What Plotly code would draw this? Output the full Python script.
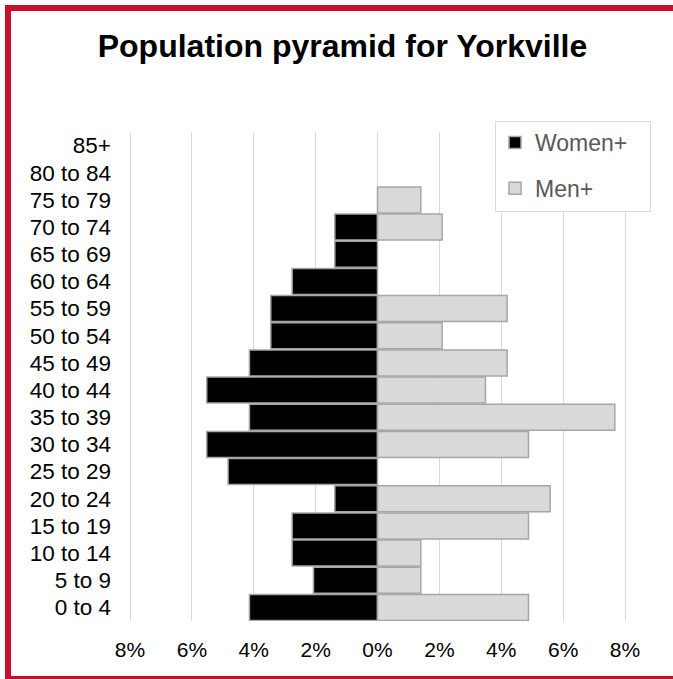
import plotly.graph_objects as go

age_groups = ["0 to 4", "5 to 9", "10 to 14", "15 to 19", "20 to 24", "25 to 29",
              "30 to 34", "35 to 39", "40 to 44", "45 to 49", "50 to 54", "55 to 59",
              "60 to 64", "65 to 69", "70 to 74", "75 to 79", "80 to 84", "85+"]
# percent of population
women = [4.14, 2.07, 2.76, 2.76, 1.38, 4.83, 5.52, 4.14, 5.52, 4.14, 3.45, 3.45,
         2.76, 1.38, 1.38, 0, 0, 0]
men = [4.88, 1.40, 1.40, 4.88, 5.58, 0, 4.88, 7.67, 3.49, 4.19, 2.09, 4.19,
       0, 0, 2.09, 1.40, 0, 0]
tick_vals = [-8, -6, -4, -2, 0, 2, 4, 6, 8]
tick_text = ["8%", "6%", "4%", "2%", "0%", "2%", "4%", "6%", "8%"]

W, H = 673, 679
L, R, T, B = 128, 46, 132, 58
pw, ph = W - L - R, H - T - B
xmax = 8 * pw / 495.0

def px_x(p):
    return (p - L) / pw

def px_y(p):
    return (H - B - p) / ph

fig = go.Figure()
fig.add_trace(go.Bar(
    y=age_groups, x=[-v if v else None for v in women], orientation="h", name="Women+",
    marker=dict(color="#000000", line=dict(color="#A6A6A6", width=1.5)),
    legendgroup="w", customdata=women,
    hovertemplate="%{y}: %{customdata:.2f}%<extra>Women+</extra>",
))
fig.add_trace(go.Bar(
    y=age_groups, x=[v if v else None for v in men], orientation="h", name="Men+",
    marker=dict(color="#D9D9D9", line=dict(color="#A6A6A6", width=1.5)),
    legendgroup="m",
    hovertemplate="%{y}: %{x:.2f}%<extra>Men+</extra>",
))

fig.update_layout(
    width=W, height=H,
    margin=dict(l=L, r=R, t=T, b=B),
    paper_bgcolor="white", plot_bgcolor="white",
    barmode="relative", bargap=0.04,
    font=dict(family="Liberation Sans, Arial, sans-serif", color="#000000"),
    title=dict(text="<b>Population pyramid for Yorkville</b>",
               font=dict(size=32, color="#000000"),
               x=342.5 / W, xref="container", xanchor="center",
               y=1 - 46 / H, yref="container", yanchor="middle"),
    xaxis=dict(range=[-xmax, xmax], tickvals=tick_vals, ticktext=tick_text,
               showgrid=True, gridcolor="#D9D9D9", gridwidth=1,
               zeroline=False, showline=False, ticks="",
               tickfont=dict(size=21, color="#000000"), ticklabelstandoff=14,
               fixedrange=True),
    yaxis=dict(type="category", categoryorder="array", categoryarray=age_groups,
               tickmode="array", tickvals=age_groups, ticktext=age_groups,
               range=[-0.5, len(age_groups) - 0.5],
               showgrid=False, zeroline=False, showline=False, ticks="",
               tickfont=dict(size=22.5, color="#000000"), ticklabelstandoff=16),
    legend=dict(x=px_x(495), y=px_y(121), xanchor="left", yanchor="top",
                bgcolor="rgba(0,0,0,0)", borderwidth=0,
                font=dict(size=23, color="#595959"),
                traceorder="grouped", tracegroupgap=13),
    shapes=[
        dict(type="rect", xref="paper", yref="paper",
             x0=px_x(495.5), x1=px_x(650.5), y0=px_y(121.5), y1=px_y(211.5),
             line=dict(color="#D9D9D9", width=1), fillcolor="white", layer="above"),
        dict(type="rect", xref="paper", yref="paper",
             x0=px_x(8), x1=px_x(677), y0=px_y(8), y1=px_y(679),
             line=dict(color="#C8102E", width=6), fillcolor="rgba(0,0,0,0)",
             layer="above"),
    ],
)

fig.write_html("out.html", config={"displayModeBar": False},
               post_script="document.body.style.margin='0';document.body.style.padding='0';")
